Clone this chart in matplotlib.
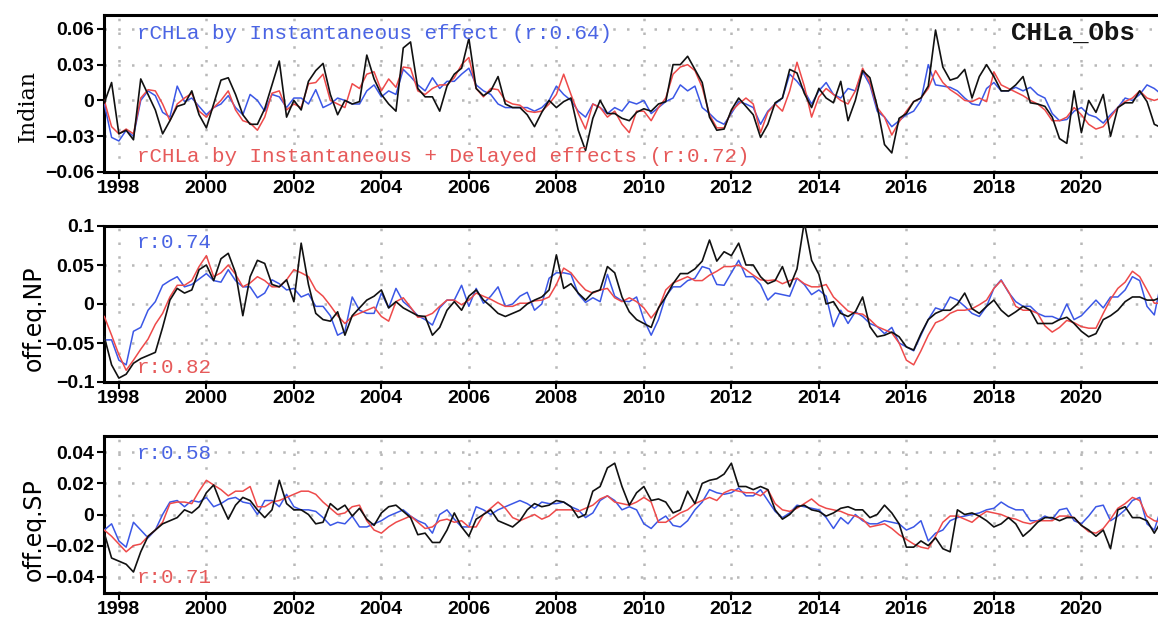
import numpy as np
import matplotlib
matplotlib.use("Agg")
import matplotlib.pyplot as plt

# Bi-monthly samples (Sep 1997 ... Nov 2021), values in units of 1e-3
t_start = 1997 + 8 / 12.0
t_step = 2 / 12.0
SCALE = 1e-3

# --- Indian ---
ind_obs = [
    -2, 15,
    -28, -25, -33, 18, 5, -8,
    -28, -17, -5, -3, 8, -12,
    -23, -3, 17, 19, 5, -12,
    -20, -20, -7, 13, 33, -14,
    0, -8, 16, 25, 31, 5,
    -12, 0, -3, -1, 38, 18,
    5, -3, -9, 44, 49, 10,
    3, 3, -9, 12, 22, 27,
    52, 10, 4, 8, 20, -3,
    -6, -6, -12, -22, -10, 0,
    -6, -1, 2, -25, -42, -15,
    0, -11, -11, -15, -17, -10,
    -7, -9, -3, -1, 30, 30,
    37, 26, 15, -14, -25, -24,
    -8, 2, -5, -12, -31, -20,
    -2, 2, 26, 23, 6, -6,
    10, 2, -2, 16, -17, 0,
    25, 19, -5, -37, -44, -15,
    -11, -1, 2, 12, 59, 28,
    17, 19, 26, 2, 20, 30,
    20, 8, 8, 13, 20, -2,
    -3, -5, -14, -32, -36, 8,
    -27, 0, -10, 5, -30, -6,
    -2, -2, 8, -1, -20, -23,
]
ind_inst = [
    -3, -31,
    -34, -25, -30, 0, 8, 4,
    -10, -14, 12, -1, 2, -5,
    -12, -6, -3, 4, -6, -12,
    5, 0, -9, 5, 3, -6,
    2, 2, -3, 9, -6, -3,
    2, 0, -3, -3, 8, 13,
    3, 8, 5, 26, 20, 13,
    8, 19, 10, 16, 16, 22,
    27, 13, 8, 5, -3, -6,
    -6, -6, -6, -9, -6, 0,
    12, 5, 0, -9, -14, -3,
    -6, -11, -6, -9, -1, -3,
    0, -11, -6, -1, 2, 13,
    8, 12, -6, -11, -17, -20,
    -11, -1, -3, -6, -20, -9,
    -3, 2, 22, 16, 8, -3,
    8, 15, 5, 2, 10, 8,
    24, 13, -9, -14, -22, -17,
    -12, -9, 0, 30, 13, 12,
    11, 8, 2, -3, -4, 10,
    15, 8, 8, 11, 8, 11,
    5, 2, -11, -17, -16, -9,
    -6, -12, -14, -19, -12, -6,
    2, 0, 5, 13, 10, 5,
]
ind_full = [
    0, -22,
    -28, -24, -28, 2, 9, 8,
    -3, -17, -3, 2, 6, -9,
    -14, -6, 0, 8, -8, -17,
    -19, -25, -14, 6, 8, -8,
    -3, -6, 14, 15, 22, 0,
    -3, -6, 14, 10, 22, 24,
    8, 18, 11, 28, 27, 8,
    5, 10, 13, 13, 19, 30,
    36, 10, 3, 10, 9, 0,
    -3, -4, -9, -10, -9, -3,
    5, 22, 5, -11, -24, -3,
    -6, -14, -9, -20, -27, -9,
    -9, -17, -6, 2, 22, 28,
    30, 25, 11, -12, -23, -23,
    -9, -3, 2, -3, -27, -10,
    -3, -9, 8, 32, 12, -14,
    3, 10, 5, 0, -3, 8,
    27, 15, -6, -14, -29, -18,
    -9, -1, 2, 10, 25, 15,
    9, 5, 0, -1, 2, -1,
    24, 13, 10, 7, 4, 0,
    -3, -8, -17, -17, -14, -6,
    -12, -20, -24, -22, -14, -6,
    -1, 2, 8, 2, 0, 2,
]

# --- off-equator North Pacific ---
np_obs = [
    -42, -78,
    -95, -90, -76, -70, -66, -62,
    -30, 5, 20, 14, 18, 44,
    50, 30, 58, 65, 40, -15,
    35, 56, 52, 25, 22, 31,
    3, 78, 25, -12, -20, -22,
    -10, -40, -15, -5, 5, 10,
    18, -5, 3, -5, -10, -15,
    -16, -40, -30, -8, 3, -8,
    10, 18, 5, -3, -12, -16,
    -12, -8, 0, 5, 9, 18,
    63, 20, 26, 14, 5, 15,
    18, 48, 40, 9, -10, -20,
    -25, -30, -5, 9, 26, 39,
    39, 45, 55, 82, 55, 67,
    62, 78, 50, 50, 35, 26,
    30, 48, 22, 45, 105, 56,
    38, 0, 3, -12, -16, -10,
    9, -29, -42, -40, -36, -42,
    -55, -59, -38, -20, -12, -8,
    -8, 0, 14, -6, -12, -3,
    5, -8, -16, -10, -3, -8,
    -25, -25, -25, -20, -17, -25,
    -35, -42, -38, -20, -15, -8,
    3, 9, 9, 5, 5, 9,
]
np_inst = [
    -46, -46,
    -72, -78, -35, -30, -8, 3,
    24, 30, 35, 22, 25, 32,
    39, 30, 28, 44, 30, 22,
    22, 8, 14, 31, 26, 18,
    20, 9, 13, -3, -3, -15,
    -40, -35, 9, -8, -12, -12,
    14, -5, 20, 3, -5, -15,
    -20, -27, -5, 5, 5, 24,
    -3, 20, 1, 10, 22, -3,
    0, 10, 15, -8, 0, 33,
    40, 40, 38, 13, 2, 8,
    3, 38, 10, 4, 3, 9,
    -20, -40, -20, 10, 22, 22,
    30, 33, 48, 45, 25, 24,
    40, 56, 35, 35, 25, 5,
    14, 12, 10, 33, 25, 12,
    18, 10, -29, -8, -25, -10,
    -16, -25, -29, -38, -30, -50,
    -55, -60, -40, -20, -5, -8,
    9, 5, -3, -12, -16, -3,
    20, 31, 15, 3, -3, -3,
    -12, -16, -16, -20, 0, -20,
    -15, -5, 5, -5, 9, 9,
    18, 35, 30, -3, -14, 31,
]
np_full = [
    -16, -40,
    -65, -85, -72, -58, -45, -26,
    -12, 9, 24, 24, 30, 48,
    62, 35, 40, 50, 38, 22,
    27, 35, 30, 22, 22, 31,
    44, 40, 35, 18, 10, -2,
    -15, -25, -16, -12, -8, -4,
    -16, -22, 3, 8, -4, -17,
    -16, -12, -3, 5, 5, -1,
    5, 14, 10, 6, 1, -3,
    -3, 1, 1, 4, 5, 9,
    25, 46, 40, 28, 18, 14,
    18, 20, 8, 3, 8, 3,
    -5, -18, -6, 18, 27, 31,
    35, 30, 30, 37, 42, 48,
    48, 50, 44, 37, 31, 30,
    31, 26, 30, 33, 26, 22,
    22, 25, 9, 0, -9, -12,
    -13, -20, -29, -33, -37, -50,
    -72, -78, -60, -40, -24, -20,
    -12, -8, -8, -6, -1, 5,
    20, 30, 16, -3, -8, -8,
    -12, -28, -36, -30, -21, -24,
    -29, -31, -31, -12, 6, 20,
    28, 42, 35, 18, 1, 1,
]

# --- off-equator South Pacific ---
sp_obs = [
    -12, -28,
    -30, -32, -37, -24, -14, -10,
    -6, -4, -2, 3, 1, 5,
    14, 19, 7, -3, 6, 11,
    9, 3, -2, 3, 22, 7,
    3, 3, 0, -6, -5, 7,
    3, 6, -1, 4, -3, -7,
    1, 5, 6, 2, -2, -13,
    -12, -18, -18, -10, 1, -8,
    -14, -3, 0, 3, -4, -6,
    -8, -4, 3, 7, 5, 6,
    9, 8, 5, -2, 0, 15,
    18, 30, 33, 18, 6, 14,
    18, 9, 10, 8, 1, 3,
    15, 7, 20, 22, 23, 26,
    33, 18, 18, 16, 18, 16,
    3, -3, 0, 5, 6, 3,
    2, -1, 1, 4, 5, 3,
    3, -2, 0, 6, 1, -6,
    -21, -21, -17, -20, -15, -22,
    -24, 3, 0, 1, -1, -4,
    -8, -6, -2, -6, -14, -10,
    -5, -2, -2, -4, -2, -2,
    -7, -10, -14, -10, -22, 3,
    5, -2, -2, -4, -12, -4,
]
sp_inst = [
    -10, -6,
    -17, -21, -5, -10, -15, -10,
    0, 8, 9, 5, 9, 8,
    11, 5, 7, 10, 11, 8,
    7, 0, 9, 9, 5, 13,
    5, 3, 3, 2, -2, -7,
    -5, -6, -1, -8, -8, -6,
    -4, -1, 1, 3, -1, -4,
    -6, -12, 0, 3, -3, -8,
    -8, 5, 3, 0, 3, 5,
    7, 9, 7, 4, 8, 7,
    7, 8, 5, 3, -2, 1,
    9, 12, 9, 3, 5, 3,
    -6, -9, -4, -1, -7, -8,
    -4, 3, 8, 16, 14, 13,
    14, 17, 12, 12, 16, 9,
    2, -2, 1, 6, 5, 4,
    3, -2, -9, -2, -6, 0,
    -4, -6, -6, -4, -5, -6,
    -10, -8, -4, -17, -12, -10,
    -4, -2, -1, 0, 1, 3,
    4, 8, 5, 3, 3, -4,
    -4, -1, -3, 3, 4, -4,
    -6, -1, 5, 6, -4, -1,
    3, 9, 11, -6, -10, 5,
]
sp_full = [
    -10, -14,
    -19, -24, -20, -19, -14, -10,
    -5, 7, 8, 8, 7, 15,
    22, 19, 16, 12, 15, 15,
    18, 5, 5, 8, 9, 11,
    13, 15, 15, 13, 8, 4,
    0, 1, 5, 6, -4, -10,
    -12, -8, -5, -3, -1, -5,
    -9, -8, -4, -3, -5, -4,
    -8, -8, 0, 4, 8, 4,
    -2, -4, -2, 0, -3, -1,
    3, 3, 3, 2, 4, 6,
    10, 12, 8, 7, 6, 8,
    11, 8, -5, -5, -2, 1,
    3, 7, 9, 11, 9, 14,
    16, 15, 14, 14, 12, 16,
    7, 3, 2, 4, 7, 10,
    6, 4, 3, 2, 0, -1,
    -3, -8, -7, -6, -9, -13,
    -16, -19, -21, -22, -14, -5,
    -1, -1, -3, -5, -1, 2,
    1, 0, -2, -3, -5, -6,
    -4, -4, -4, -1, -1, -2,
    -7, -11, -12, -9, -3, 4,
    7, 11, 9, -1, -4, -5,
]

year_ticks = list(range(1998, 2021, 2))
ind_yticks = [-0.06, -0.03, 0, 0.03, 0.06]
ind_ylabels = ["\u22120.06", "\u22120.03", "0", "0.03", "0.06"]
np_yticks = [-0.1, -0.05, 0, 0.05, 0.1]
np_ylabels = ["\u22120.1", "\u22120.05", "0", "0.05", "0.1"]
sp_yticks = [-0.04, -0.02, 0, 0.02, 0.04]
sp_ylabels = ["\u22120.04", "\u22120.02", "0", "0.02", "0.04"]

BLUE = "#3b57e6"
RED = "#ee4a4a"
BLUE_TXT = "#4a64e4"
RED_TXT = "#e65a5a"
W, H = 1158.0, 619.0


def panel_axes(fig, top_px, bottom_px):
    left = 104 / W
    return fig.add_axes([left, 1 - bottom_px / H, 1 - left, (bottom_px - top_px) / H])


def draw_panel(ax, obs, inst, full, yticks, ylabels, ylim, dashed):
    n = len(obs)
    t = t_start + t_step * np.arange(n)
    ax.plot(t, np.array(inst) * SCALE, color=BLUE, lw=1.1, zorder=3)
    ax.plot(t, np.array(full) * SCALE, color=RED, lw=1.1, zorder=4)
    ax.plot(t, np.array(obs) * SCALE, color="#111111", lw=1.2, zorder=5)

    ax.set_xlim(1997.66, 1997.66 + (W - 104) / 43.75)
    ax.set_ylim(*ylim)
    ax.set_xticks(year_ticks)
    ax.set_xticklabels([str(y) for y in year_ticks], fontweight="bold",
                       fontsize=14, family="Liberation Sans")
    ax.set_yticks(yticks)
    ax.set_yticklabels(ylabels, fontweight="bold", fontsize=14,
                       family="Liberation Sans")
    ax.tick_params(axis="both", direction="out", length=5, width=1.5, pad=2)
    ax.tick_params(axis="x", pad=1)

    ax.grid(True, color="#b8b8b8", linestyle=(0, (1, 4.5)), linewidth=1.8)
    ax.set_axisbelow(True)

    ax.spines["right"].set_visible(False)
    for side in ("top", "bottom", "left"):
        ax.spines[side].set_linewidth(2.2)
    for side in dashed:
        ax.spines[side].set_linestyle((0, (5, 1)))


def main():
    fig = plt.figure(figsize=(W / 100, H / 100), dpi=100)

    ax1 = panel_axes(fig, 15, 172)
    ax2 = panel_axes(fig, 226, 382)
    ax3 = panel_axes(fig, 436, 593)

    draw_panel(ax1, ind_obs, ind_inst, ind_full, ind_yticks, ind_ylabels,
               (-0.06, 0.0716), dashed=("bottom",))
    draw_panel(ax2, np_obs, np_inst, np_full, np_yticks, np_ylabels,
               (-0.1, 0.1), dashed=("top", "bottom"))
    draw_panel(ax3, sp_obs, sp_inst, sp_full, sp_yticks, sp_ylabels,
               (-0.0505, 0.0505), dashed=())

    mono = "Liberation Mono"
    ax1.text(0.031, 0.885, "rCHLa by Instantaneous effect (r:0.64)",
             transform=ax1.transAxes, color=BLUE_TXT, family=mono,
             fontsize=15, va="center", ha="left", zorder=6)
    ax1.text(0.031, 0.096, "rCHLa by Instantaneous + Delayed effects (r:0.72)",
             transform=ax1.transAxes, color=RED_TXT, family=mono,
             fontsize=15, va="center", ha="left", zorder=6)
    ax1.text(0.978, 0.885, "CHLa_Obs", transform=ax1.transAxes,
             color="#151515", family=mono, fontweight="bold", fontsize=18.5,
             va="center", ha="right", zorder=6)

    ax2.text(0.031, 0.897, "r:0.74", transform=ax2.transAxes, color=BLUE_TXT,
             family=mono, fontsize=15, va="center", ha="left", zorder=6)
    ax2.text(0.031, 0.096, "r:0.82", transform=ax2.transAxes, color=RED_TXT,
             family=mono, fontsize=15, va="center", ha="left", zorder=6)
    ax3.text(0.031, 0.89, "r:0.58", transform=ax3.transAxes, color=BLUE_TXT,
             family=mono, fontsize=15, va="center", ha="left", zorder=6)
    ax3.text(0.031, 0.096, "r:0.71", transform=ax3.transAxes, color=RED_TXT,
             family=mono, fontsize=15, va="center", ha="left", zorder=6)

    # region labels on the left
    fig.text(28 / W, 1 - 106 / H, "Indian", rotation=90, ha="center",
             va="center", family="DejaVu Serif", fontsize=16)
    fig.text(34 / W, 1 - 318 / H, "off.eq.NP", rotation=90, ha="center",
             va="center", family="DejaVu Sans", fontsize=17)
    fig.text(34 / W, 1 - 530 / H, "off.eq.SP", rotation=90, ha="center",
             va="center", family="DejaVu Sans", fontsize=17)

    fig.savefig("out.png", dpi=100)


if __name__ == "__main__":
    main()
